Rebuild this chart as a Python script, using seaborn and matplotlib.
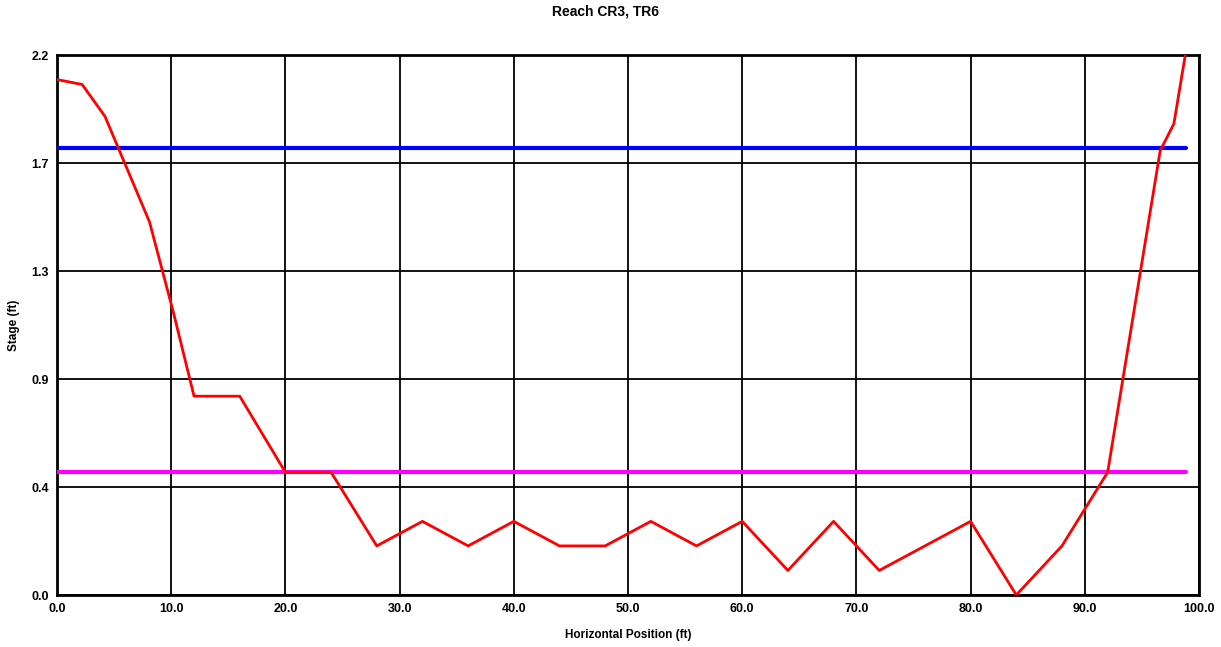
import matplotlib
matplotlib.use("Agg")
import matplotlib.pyplot as plt
import seaborn as sns
import pandas as pd

sns.set_theme(style="white")
plt.rcParams['font.family'] = ['Liberation Sans', 'DejaVu Sans']
plt.rcParams.update({"text.color": "black", "axes.labelcolor": "black",
                     "xtick.color": "black", "ytick.color": "black"})

# Ground profile
pos_ft = [0, 2.2, 4.2, 8.1, 10.2, 12, 16, 20, 24, 28, 32, 36, 40, 44, 48, 52, 56,
          60, 64, 68, 72, 76, 80, 84, 88, 90, 92, 96.6, 97.8, 98.8]
stage_ft = [2.10, 2.08, 1.95, 1.52, 1.15, 0.81, 0.81, 0.50, 0.50, 0.20, 0.30, 0.20,
            0.30, 0.20, 0.20, 0.30, 0.20, 0.30, 0.10, 0.30, 0.10, 0.20, 0.30, 0.0,
            0.20, 0.35, 0.50, 1.81, 1.92, 2.20]

# Reference water levels
level_x = [0, 98.9]
blue_level = [1.82, 1.82]
magenta_level = [0.50, 0.50]

x_ticks = [0, 10, 20, 30, 40, 50, 60, 70, 80, 90, 100]
x_tick_labels = ["0.0", "10.0", "20.0", "30.0", "40.0", "50.0", "60.0", "70.0", "80.0", "90.0", "100.0"]
y_ticks = [0, 0.44, 0.88, 1.32, 1.76, 2.2]
y_tick_labels = ["0.0", "0.4", "0.9", "1.3", "1.7", "2.2"]

fig, ax = plt.subplots(figsize=(12.21, 6.47), dpi=100)
fig.subplots_adjust(left=57/1221, right=1199/1221, top=1-55/647, bottom=1-595/647)

prof = pd.DataFrame({"x": pos_ft, "y": stage_ft})
sns.lineplot(data=prof, x="x", y="y", sort=False, color="#ff0000", linewidth=2.0, ax=ax, zorder=4)
sns.lineplot(x=level_x, y=blue_level, color="#0000ff", linewidth=3, ax=ax, zorder=3)
sns.lineplot(x=level_x, y=magenta_level, color="#ff00ff", linewidth=3, ax=ax, zorder=3)

ax.set_xlim(0, 100)
ax.set_ylim(0, 2.2)
ax.set_xticks(x_ticks)
ax.set_xticklabels(x_tick_labels)
ax.set_yticks(y_ticks)
ax.set_yticklabels(y_tick_labels)
ax.grid(True, color="black", linewidth=1.3)
ax.set_axisbelow(True)
for s in ax.spines.values():
    s.set_color("black")
    s.set_linewidth(2)
ax.tick_params(axis="both", direction="out", length=4, width=1.5, color="black",
               labelcolor="black", labelsize=9, pad=2)
for lab in ax.get_xticklabels() + ax.get_yticklabels():
    lab.set_fontweight("bold")

ax.set_xlabel("Horizontal Position (ft)", fontsize=8.5, fontweight="bold", labelpad=10, color="black")
ax.set_ylabel("Stage (ft)", fontsize=8.5, fontweight="bold", labelpad=8, color="black")
fig.suptitle("Reach CR3, TR6", x=0.496, y=0.993, fontsize=10, fontweight="bold", color="black")

fig.savefig("out.png", dpi=100, facecolor="white")
